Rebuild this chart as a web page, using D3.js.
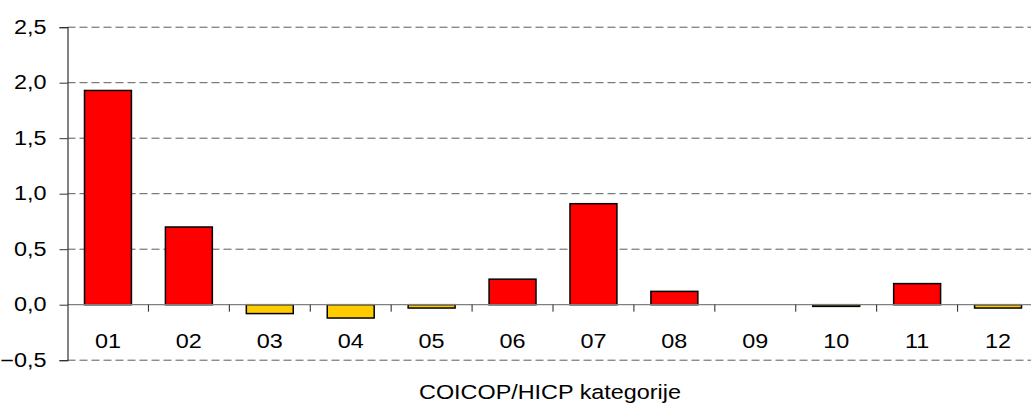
<!DOCTYPE html>
<html><head><meta charset="utf-8">
<script src="https://cdn.jsdelivr.net/npm/d3@7"></script>
<style>body{margin:0;background:#fff}svg{display:block}text{font-family:"Liberation Sans",Arial,sans-serif;fill:#000}</style>
</head><body><svg id="c" width="1031" height="408"></svg>
<script>
const categories = ["01","02","03","04","05","06","07","08","09","10","11","12"];
const values = [1.93,0.70,-0.08,-0.12,-0.03,0.23,0.91,0.12,0,-0.015,0.19,-0.03];
const yTicks = [-0.5,0,0.5,1.0,1.5,2.0,2.5];
const xTitle = "COICOP/HICP kategorije";

const svg = d3.select("#c");
const pLeft = 67.5, pRight = 1038.5, pTop = 27.2, pBottom = 360.2;
const fs = 19.5, sx = 1.2;
const x = d3.scaleBand().domain(categories).range([pLeft, pRight]).paddingInner(0.42).paddingOuter(0.21);
const y = d3.scaleLinear().domain([-0.5, 2.5]).range([pBottom, pTop]);
const fmt = v => d3.format(".1f")(v).replace(".", ",");

// gridlines
svg.append("g").selectAll("line").data(yTicks.filter(t => t !== 0)).join("line")
  .attr("x1", pLeft).attr("x2", 1031).attr("y1", d => y(d)).attr("y2", d => y(d))
  .attr("stroke", "#5a5a5a").attr("stroke-width", 1).attr("stroke-dasharray", "8,4");

// bars
svg.append("g").selectAll("rect").data(values).join("rect")
  .attr("x", (d, i) => x(categories[i]))
  .attr("width", x.bandwidth())
  .attr("y", d => y(Math.max(0, d)))
  .attr("height", d => Math.abs(y(d) - y(0)))
  .attr("fill", d => d >= 0 ? "#FF0000" : "#FFCC00")
  .attr("stroke", "#000").attr("stroke-width", 1.5);

// zero line
svg.append("line").attr("x1", pLeft).attr("x2", 1031).attr("y1", y(0)).attr("y2", y(0))
  .attr("stroke", "#808080").attr("stroke-width", 1.2);

// category boundary ticks
const step = x.step();
svg.append("g").selectAll("line").data(categories.slice(1)).join("line")
  .attr("x1", d => x(d) - step * 0.21).attr("x2", d => x(d) - step * 0.21)
  .attr("y1", y(0)).attr("y2", y(0) + 7)
  .attr("stroke", "#222").attr("stroke-width", 1);

// y axis
const yAxis = d3.axisLeft(y).tickValues(yTicks).tickSize(8).tickFormat(fmt).tickPadding(13);
const ga = svg.append("g").attr("transform", `translate(${pLeft},0)`).call(yAxis);
ga.select(".domain").attr("stroke", "#333").attr("stroke-width", 1.2);
ga.selectAll(".tick line").attr("stroke", "#333");
ga.selectAll(".tick text").each(function () {
  const t = d3.select(this);
  t.attr("font-size", fs).attr("font-family", "Liberation Sans, Arial, sans-serif").attr("fill", "#000");
  const tx = +t.attr("x");
  t.attr("x", null).attr("transform", `translate(${tx},0) scale(${sx},1)`);
});

// category labels
svg.append("g").selectAll("text").data(categories).join("text")
  .attr("transform", d => `translate(${x(d) + x.bandwidth() / 2},348) scale(${sx},1)`)
  .attr("text-anchor", "middle").attr("font-size", fs).text(d => d);

// x title
svg.append("text").attr("transform", `translate(550,399) scale(${sx},1)`)
  .attr("text-anchor", "middle").attr("font-size", fs).text(xTitle);
</script></body></html>
